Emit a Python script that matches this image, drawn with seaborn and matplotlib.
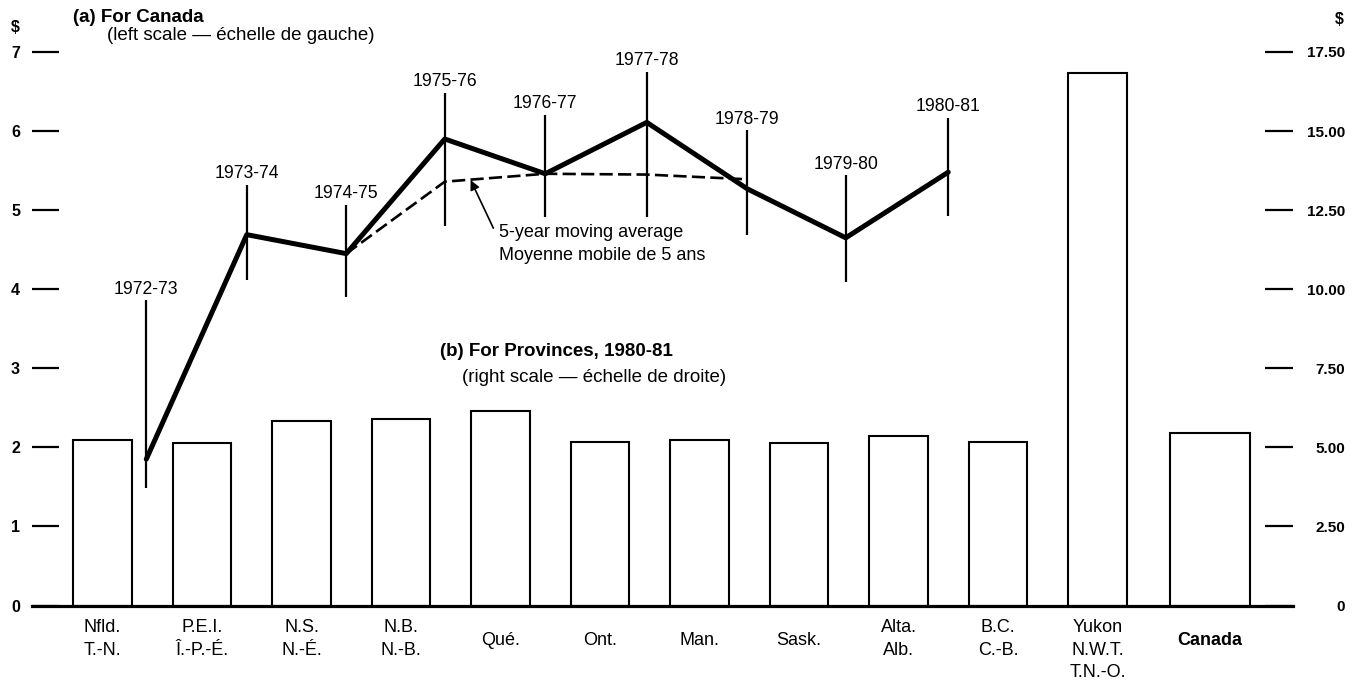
import matplotlib
matplotlib.use("Agg")
import matplotlib.pyplot as plt
import seaborn as sns

# (b) provinces 1980-81, right scale ($)
prov_labels = ["Nfld.\nT.-N.", "P.E.I.\nÎ.-P.-É.", "N.S.\nN.-É.", "N.B.\nN.-B.", "Qué.",
               "Ont.", "Man.", "Sask.", "Alta.\nAlb.", "B.C.\nC.-B.", "Yukon\nN.W.T.\nT.N.-O."]
prov_values = [5.24, 5.13, 5.84, 5.90, 6.15, 5.17, 5.24, 5.14, 5.36, 5.17, 16.84]
canada_label = "Canada"
canada_value = 5.46

# (a) Canada, left scale ($)
years = ["1972-73", "1973-74", "1974-75", "1975-76", "1976-77",
         "1977-78", "1978-79", "1979-80", "1980-81"]
canada_series = [1.85, 4.69, 4.45, 5.90, 5.46, 6.11, 5.27, 4.65, 5.48]
ma_years = ["1974-75", "1975-76", "1976-77", "1977-78", "1978-79"]
ma_values = [4.45, 5.36, 5.46, 5.45, 5.39]

# year marker lines (left scale)
marker_top = [3.86, 5.32, 5.07, 6.48, 6.20, 6.75, 6.01, 5.44, 6.17]
marker_bottom = [1.49, 4.12, 3.90, 4.80, 4.91, 4.91, 4.69, 4.09, 4.93]

left_ticks = [0, 1, 2, 3, 4, 5, 6, 7]
right_ticks = [0, 2.5, 5, 7.5, 10, 12.5, 15, 17.5]
right_ticklabels = ["0", "2.50", "5.00", "7.50", "10.00", "12.50", "15.00", "17.50"]

# layout positions (bar units)
prov_pos = list(range(len(prov_labels)))
canada_pos = 11.13
year_pos = [0.44, 1.45, 2.45, 3.44, 4.45, 5.47, 6.48, 7.47, 8.50]
ma_pos = year_pos[2:7]

sns.set_style("white")
plt.rcParams["font.family"] = ["Liberation Sans", "DejaVu Sans"]
plt.rcParams["text.color"] = "black"
plt.rcParams["axes.labelcolor"] = "black"

W, H = 1361, 688
fig = plt.figure(figsize=(W / 100, H / 100), dpi=100)
ax = fig.add_axes([32 / W, (H - 605.5) / H, (1293 - 32) / W, (605.5 - 52) / H])
ax2 = ax.twinx()

# bars on right scale
sns.barplot(x=prov_pos, y=prov_values, native_scale=True, orient="x", width=0.59,
            color="white", edgecolor="black", linewidth=1.5, errorbar=None, ax=ax2)
sns.barplot(x=[canada_pos], y=[canada_value], native_scale=True, orient="x", width=0.81,
            color="white", edgecolor="black", linewidth=1.5, errorbar=None, ax=ax2)

# line on left scale
ax.vlines(year_pos, marker_bottom, marker_top, color="black", lw=1.6)
sns.lineplot(x=year_pos, y=canada_series, color="black", linewidth=3.6, ax=ax)
sns.lineplot(x=ma_pos, y=ma_values, color="black", linewidth=1.9,
             linestyle=(0, (5, 2)), ax=ax)

for x, top, lab in zip(year_pos, marker_top, years):
    ax.annotate(lab, xy=(x, top), xytext=(0, 2), textcoords="offset points",
                ha="center", va="bottom", fontsize=12.7)

ax.annotate("5-year moving average\nMoyenne mobile de 5 ans", xy=(3.70, 5.38),
            xytext=(3.985, 4.82), ha="left", va="top", fontsize=13, linespacing=1.4,
            arrowprops=dict(arrowstyle="-|>", color="black", lw=1.2,
                            relpos=(0, 0.6), shrinkA=4, shrinkB=0,
                            mutation_scale=14))

# axes styling
ax.set_xlim(-0.7085, 11.965)
ax.set_ylim(0, 7)
ax2.set_ylim(0, 17.5)
ax.set_zorder(ax2.get_zorder() + 1)
ax.patch.set_visible(False)

for a in (ax, ax2):
    for s in ("top", "left", "right"):
        a.spines[s].set_visible(False)
    a.set_xlabel("")
    a.set_ylabel("")
    a.set_xticks([])
ax2.spines["bottom"].set_visible(False)
ax.spines["bottom"].set_linewidth(2.3)
ax.spines["bottom"].set_color("black")

ax.set_yticks(left_ticks)
ax.set_yticklabels([str(t) for t in left_ticks], fontweight="bold")
ax.tick_params(axis="y", direction="in", length=19.4, width=1.6, pad=8.6,
               labelsize=11.5, colors="black")
ax2.set_yticks(right_ticks)
ax2.set_yticklabels(right_ticklabels, fontweight="bold", ha="right")
ax2.tick_params(axis="y", direction="in", length=20, width=1.6, pad=37.4,
                labelsize=11, colors="black")

# category labels below the baseline
for x, lab in zip(prov_pos, prov_labels):
    if "\n" in lab:
        ax2.annotate(lab, xy=(x, 0), xytext=(0, -9.5), textcoords="offset points",
                     ha="center", va="top", fontsize=13, linespacing=1.45)
    else:
        ax2.annotate(lab, xy=(x, 0), xytext=(0, -25.5), textcoords="offset points",
                     ha="center", va="center", fontsize=13)
ax2.annotate(canada_label, xy=(canada_pos, 0), xytext=(0, -25.5), textcoords="offset points",
             ha="center", va="center", fontsize=13, fontweight="bold")

# titles and unit signs
def px(x, y):
    return x / W, 1 - y / H

fig.text(*px(73, 17), "(a) For Canada", fontsize=13.5, fontweight="bold", va="center")
fig.text(*px(107, 35), "(left scale — échelle de gauche)", fontsize=13.5, va="center")
fig.text(*px(440, 352), "(b) For Provinces, 1980-81", fontsize=13.5, fontweight="bold", va="center")
fig.text(*px(462, 378), "(right scale — échelle de droite)", fontsize=13.5, va="center")
fig.text(*px(15, 28), "$", fontsize=11.5, fontweight="bold", ha="center", va="center")
fig.text(*px(1339, 20), "$", fontsize=11.5, fontweight="bold", ha="center", va="center")

fig.savefig("out.png", dpi=100, facecolor="white")
